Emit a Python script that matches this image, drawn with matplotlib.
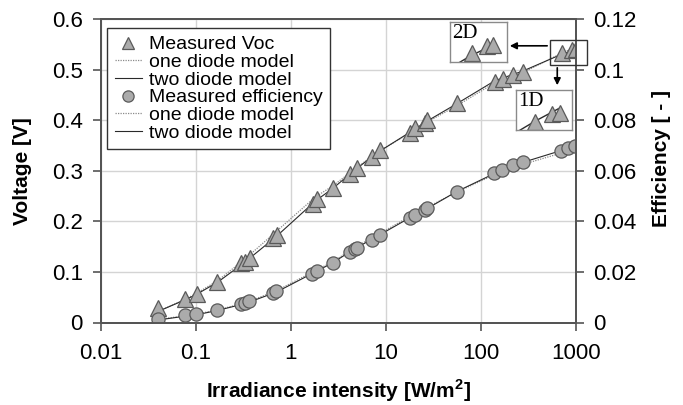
import matplotlib
matplotlib.use("Agg")
import matplotlib.pyplot as plt
from matplotlib.lines import Line2D
from matplotlib.patches import Rectangle

plt.rcParams['font.family'] = ['Liberation Sans', 'DejaVu Sans']

# ---------------- data ----------------
voc_irr = [0.040, 0.077, 0.103, 0.165, 0.30, 0.33, 0.37, 0.64, 0.71, 1.72, 1.86, 2.75,
           4.2, 5.0, 7.06, 8.65, 17.9, 20.2, 25.7, 26.8, 55.5, 140, 169, 215, 275, 706, 900, 1000]
voc_meas = [0.028, 0.046, 0.056, 0.081, 0.117, 0.120, 0.127, 0.168, 0.173, 0.235, 0.245, 0.265,
            0.293, 0.306, 0.328, 0.341, 0.375, 0.385, 0.395, 0.401, 0.433, 0.476, 0.481, 0.489, 0.496,
            0.532, 0.539, 0.540]

eff_irr = [0.040, 0.077, 0.101, 0.165, 0.30, 0.33, 0.36, 0.64, 0.69, 1.66, 1.86, 2.75,
           4.18, 4.72, 4.99, 7.06, 8.65, 17.9, 20.2, 25.7, 26.8, 55.5, 137, 165, 215, 279, 703, 824, 968]
eff_meas = [0.0013, 0.0030, 0.0032, 0.0049, 0.0072, 0.0076, 0.0085, 0.0118, 0.0126, 0.0192, 0.0204,
            0.0236, 0.0280, 0.0289, 0.0293, 0.0326, 0.0346, 0.0412, 0.0425, 0.0445, 0.0452, 0.0517,
            0.0590, 0.0603, 0.0623, 0.0633, 0.0680, 0.0690, 0.0697]

model_irr = [0.04, 0.077, 0.1, 0.17, 0.33, 0.7, 1.8, 2.75, 4.6, 8, 20, 27, 55, 140, 275, 700, 1000]
voc_2d = [0.022, 0.045, 0.055, 0.080, 0.120, 0.170, 0.240, 0.265, 0.300, 0.335, 0.382, 0.398,
          0.432, 0.478, 0.497, 0.530, 0.540]
voc_1d = [0.022, 0.046, 0.057, 0.083, 0.126, 0.180, 0.248, 0.270, 0.302, 0.336, 0.380, 0.396,
          0.428, 0.474, 0.494, 0.532, 0.545]
eff_2d = [0.0010, 0.0025, 0.0030, 0.0048, 0.0075, 0.0120, 0.0200, 0.0236, 0.0290, 0.0340, 0.0425,
          0.0450, 0.0517, 0.0590, 0.0633, 0.0680, 0.0695]
eff_1d = [0.0012, 0.0027, 0.0033, 0.0050, 0.0078, 0.0125, 0.0205, 0.0240, 0.0295, 0.0345, 0.0430,
          0.0455, 0.0515, 0.0585, 0.0625, 0.0670, 0.0680]

x_ticks = [0.01, 0.1, 1, 10, 100, 1000]
x_ticklabels = ['0.01', '0.1', '1', '10', '100', '1000']
v_ticks = [0, 0.1, 0.2, 0.3, 0.4, 0.5, 0.6]
v_ticklabels = ['0', '0.1', '0.2', '0.3', '0.4', '0.5', '0.6']
e_ticks = [0, 0.02, 0.04, 0.06, 0.08, 0.10, 0.12]
e_ticklabels = ['0', '0.02', '0.04', '0.06', '0.08', '0.1', '0.12']

# ---------------- styles ----------------
MFC = '#ababab'
MEC = '#5a5a5a'
SOLID = '#2a2a2a'
DOT = '#8a8a8a'
SPINE = '#555555'
tri = dict(marker='^', ms=11, mfc=MFC, mec=MEC, mew=0.9, ls='none')
cir = dict(marker='o', ms=9.5, mfc=MFC, mec=MEC, mew=0.9, ls='none')

fig = plt.figure(figsize=(6.83, 4.05), dpi=100)
L, R, B, T = 101 / 683, 576 / 683, (405 - 322.5) / 405, (405 - 19) / 405
ax = fig.add_axes([L, B, R - L, T - B])
ax2 = ax.twinx()

ax.set_xscale('log')
ax.set_xlim(0.01, 1000)
ax.set_ylim(0, 0.6)
ax2.set_ylim(0, 0.12)

ax.set_xticks(x_ticks)
ax.set_xticklabels(x_ticklabels)
ax.xaxis.set_minor_locator(matplotlib.ticker.NullLocator())
ax.set_yticks(v_ticks)
ax.set_yticklabels(v_ticklabels)
ax2.set_yticks(e_ticks)
ax2.set_yticklabels(e_ticklabels)

ax.grid(True, color='#d4d4d4', lw=1.0)
ax.set_axisbelow(True)

for a in (ax, ax2):
    for s in a.spines.values():
        s.set_color(SPINE)
        s.set_linewidth(1.4)
ax.tick_params(axis='both', labelsize=16, color=SPINE, width=1.2, length=6, direction='out')
ax.tick_params(axis='y', pad=7)
ax.tick_params(axis='x', pad=9)
ax2.tick_params(axis='y', labelsize=16, color=SPINE, width=1.2, length=6, direction='out', pad=6)

# model lines
ax.plot(model_irr, voc_1d, ls=(0, (1, 1)), color=DOT, lw=0.9)
ax.plot(model_irr, voc_2d, ls='-', color=SOLID, lw=0.8)
ax2.plot(model_irr, eff_1d, ls=(0, (1, 1)), color=DOT, lw=0.9)
ax2.plot(model_irr, eff_2d, ls='-', color=SOLID, lw=0.8)
# measurements
ax.plot(voc_irr, voc_meas, **tri)
ax2.plot(eff_irr, eff_meas, **cir)

ax.set_xlabel('Irradiance intensity [W/m$^\\mathregular{2}$]', fontsize=15, fontweight='bold')
ax.xaxis.set_label_coords(0.5, -0.18)
ax.set_ylabel('Voltage [V]', fontsize=15, fontweight='bold')
ax.yaxis.set_label_coords(-0.145, 0.5)
ax2.set_ylabel('Efficiency [ - ]', fontsize=15, fontweight='bold')
ax2.yaxis.set_label_coords(1.16, 0.54)

# legend
handles = [
    Line2D([], [], **tri),
    Line2D([], [], ls=(0, (1, 1)), color=DOT, lw=0.9),
    Line2D([], [], ls='-', color=SOLID, lw=0.8),
    Line2D([], [], **cir),
    Line2D([], [], ls=(0, (1, 1)), color=DOT, lw=0.9),
    Line2D([], [], ls='-', color=SOLID, lw=0.8),
]
labels = ['Measured Voc', 'one diode model', 'two diode model',
          'Measured efficiency', 'one diode model', 'two diode model']
leg = ax2.legend(handles, labels, loc='upper left', bbox_to_anchor=(0.0126, 0.970),
                 borderaxespad=0, fontsize=14, frameon=True, fancybox=False,
                 edgecolor='#333333', framealpha=1, labelspacing=0.0,
                 handlelength=1.4, handletextpad=0.35, borderpad=0.4, markerscale=0.85)
leg.get_frame().set_linewidth(1.0)

# highlight box around high-irradiance points + arrows
ax2.add_patch(Rectangle((532, 0.509 / 5), 1297 - 532, (0.5585 - 0.509) / 5, fill=False,
                        ec='#333333', lw=1.0, clip_on=False, zorder=5))
ax.annotate('', xy=(188, 0.547), xytext=(532, 0.547),
            arrowprops=dict(arrowstyle='-|>', color='k', lw=1.2, mutation_scale=10), zorder=6)
ax.annotate('', xy=(635, 0.4636), xytext=(635, 0.509),
            arrowprops=dict(arrowstyle='-|>', color='k', lw=1.2, mutation_scale=10), zorder=6)

# insets
def inset(px_box, xlim, ylim, model, tag):
    x0, y0, x1, y1 = px_box
    ia = fig.add_axes([x0 / 683, (405 - y1) / 405, (x1 - x0) / 683, (y1 - y0) / 405])
    ia.set_xscale('log')
    ia.set_xlim(*xlim)
    ia.set_ylim(*ylim)
    ia.set_xticks([]); ia.set_yticks([])
    ia.xaxis.set_minor_locator(matplotlib.ticker.NullLocator())
    for s in ia.spines.values():
        s.set_color('#8a8a8a'); s.set_linewidth(1.0)
    ia.plot(model_irr, model, ls='-', color=SOLID, lw=1.0)
    ia.plot(voc_irr, voc_meas, **tri)
    ia.text(0.04, 0.95, tag, transform=ia.transAxes, ha='left', va='top',
            fontsize=15, family='Liberation Serif')
    return ia

inset((450, 21.7, 506.7, 61.7), (497, 1241), (0.524, 0.5624), voc_2d, '2D')
inset((516, 90, 571.7, 130), (542, 1178), (0.524, 0.562), voc_1d, '1D')

fig.savefig('out.png', dpi=100)
